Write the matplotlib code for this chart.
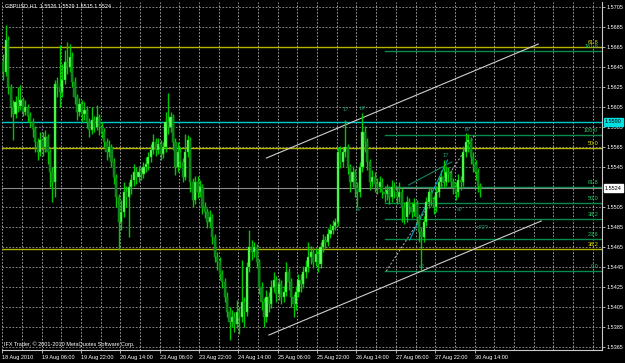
import matplotlib
matplotlib.use("Agg")
import matplotlib.pyplot as plt
import matplotlib.transforms as mtransforms
import numpy as np

# GBPUSD H1, 18 Aug 2010 14:00 .. 30 Aug 2010 16:00, prices in pips (1.xxxx -> xxxx + 10000)
closes = [5640, 5672, 5625, 5605, 5598, 5610, 5606, 5612, 5600, 5605,
          5596, 5590, 5583, 5570, 5560, 5572, 5565, 5575, 5560, 5540,
          5530, 5628, 5625, 5620, 5632, 5650, 5645, 5655, 5630, 5615,
          5600, 5608, 5598, 5602, 5590, 5582, 5592, 5585, 5595, 5585,
          5580, 5570, 5560, 5565, 5550, 5535, 5515, 5490, 5500, 5520,
          5515, 5525, 5532, 5540, 5535, 5540, 5538, 5545, 5548, 5555,
          5562, 5570, 5562, 5568, 5558, 5565, 5590, 5585, 5595, 5570,
          5545, 5560, 5550, 5535, 5560, 5572, 5530, 5512, 5530, 5520,
          5525, 5505, 5500, 5490, 5495, 5475, 5455, 5450, 5438, 5430,
          5415, 5400, 5390, 5395, 5388, 5400, 5395, 5410, 5400, 5445,
          5465, 5460, 5465, 5450, 5425, 5410, 5395, 5415, 5408, 5425,
          5432, 5418, 5428, 5415, 5420, 5440, 5430, 5415, 5408, 5420,
          5432, 5428, 5440, 5445, 5455, 5460, 5450, 5458, 5448, 5465,
          5472, 5470, 5478, 5482, 5486, 5490, 5560, 5550, 5560, 5565,
          5545, 5530, 5540, 5525, 5520, 5545, 5580, 5570, 5550, 5530,
          5535, 5528, 5525, 5530, 5520, 5518, 5522, 5515, 5525, 5520,
          5515, 5520, 5505, 5495, 5510, 5505, 5500, 5508, 5495, 5480,
          5475, 5490, 5510, 5520, 5512, 5505, 5520, 5530, 5535, 5530,
          5540, 5538, 5530, 5525, 5520, 5532, 5530, 5560, 5570, 5572,
          5555, 5548, 5540, 5526, 5524]
highs = [5658, 5687, 5676, 5628, 5612, 5616, 5625, 5627, 5615, 5612,
         5608, 5600, 5594, 5586, 5574, 5580, 5580, 5582, 5578, 5563,
         5545, 5632, 5635, 5667, 5648, 5662, 5670, 5668, 5660, 5635,
         5618, 5614, 5612, 5610, 5606, 5594, 5605, 5596, 5607, 5598,
         5590, 5584, 5574, 5572, 5568, 5554, 5538, 5518, 5512, 5530,
         5526, 5530, 5538, 5548, 5545, 5546, 5545, 5550, 5555, 5560,
         5568, 5578, 5574, 5574, 5572, 5570, 5600, 5619, 5600, 5598,
         5574, 5570, 5565, 5554, 5578, 5577, 5575, 5534, 5536, 5536,
         5532, 5528, 5510, 5504, 5502, 5498, 5478, 5460, 5455, 5442,
         5434, 5420, 5405, 5402, 5400, 5412, 5405, 5452, 5415, 5450,
         5482, 5472, 5470, 5468, 5453, 5430, 5414, 5422, 5420, 5432,
         5440, 5436, 5434, 5432, 5426, 5450, 5444, 5434, 5418, 5426,
         5438, 5438, 5446, 5452, 5470, 5466, 5464, 5464, 5462, 5470,
         5478, 5476, 5484, 5488, 5492, 5494, 5565, 5566, 5564, 5592,
         5568, 5548, 5546, 5543, 5530, 5550, 5599, 5586, 5574, 5553,
         5542, 5540, 5534, 5536, 5534, 5526, 5528, 5526, 5532, 5530,
         5526, 5530, 5524, 5510, 5516, 5514, 5510, 5514, 5512, 5498,
         5485, 5496, 5515, 5525, 5524, 5516, 5526, 5536, 5542, 5552,
         5546, 5545, 5542, 5534, 5530, 5538, 5536, 5566, 5579, 5578,
         5575, 5560, 5552, 5544, 5529]
lows = [5632, 5636, 5618, 5595, 5572, 5594, 5600, 5602, 5596, 5597,
        5590, 5585, 5575, 5560, 5552, 5556, 5556, 5560, 5548, 5525,
        5510, 5515, 5615, 5605, 5615, 5628, 5638, 5640, 5625, 5608,
        5592, 5596, 5590, 5592, 5584, 5575, 5578, 5580, 5582, 5577,
        5574, 5565, 5552, 5555, 5545, 5528, 5505, 5462, 5482, 5495,
        5505, 5475, 5518, 5526, 5528, 5530, 5532, 5534, 5540, 5542,
        5550, 5558, 5556, 5558, 5552, 5554, 5560, 5578, 5580, 5562,
        5537, 5540, 5544, 5530, 5532, 5555, 5520, 5505, 5508, 5514,
        5515, 5498, 5494, 5484, 5485, 5468, 5450, 5442, 5432, 5424,
        5410, 5395, 5372, 5385, 5380, 5384, 5378, 5390, 5385, 5396,
        5440, 5452, 5455, 5444, 5418, 5402, 5385, 5390, 5400, 5404,
        5420, 5410, 5412, 5408, 5410, 5416, 5422, 5405, 5395, 5402,
        5415, 5420, 5424, 5434, 5440, 5448, 5444, 5446, 5440, 5444,
        5460, 5464, 5466, 5474, 5478, 5482, 5486, 5544, 5545, 5555,
        5538, 5520, 5525, 5515, 5505, 5515, 5540, 5560, 5542, 5522,
        5525, 5520, 5518, 5520, 5514, 5510, 5512, 5508, 5510, 5514,
        5508, 5510, 5490, 5488, 5490, 5498, 5494, 5496, 5488, 5470,
        5442, 5470, 5486, 5504, 5506, 5498, 5500, 5515, 5525, 5524,
        5526, 5530, 5524, 5518, 5512, 5515, 5522, 5526, 5555, 5560,
        5548, 5540, 5532, 5520, 5515]
first_open = 5650

date_labels = ["18 Aug 2010", "19 Aug 06:00", "19 Aug 22:00", "20 Aug 14:00",
               "23 Aug 06:00", "23 Aug 22:00", "24 Aug 14:00", "25 Aug 06:00",
               "25 Aug 22:00", "26 Aug 14:00", "27 Aug 06:00", "27 Aug 22:00",
               "30 Aug 14:00"]
label_step = 16

price_ticks = [5705, 5685, 5665, 5645, 5625, 5605, 5585, 5565, 5545,
               5505, 5485, 5465, 5445, 5425, 5405, 5385, 5365]

# fibo (green) anchors and levels
fib_low, fib_high = 5441, 5577
fib_levels = [0.0, 23.6, 38.2, 50.0, 61.8, 100.0, 161.8]
# second fibo (yellow), only three levels on screen
yfib_levels = ["61.8", "50.0", "38.2"]
yfib_prices = [5665, 5564, 5463]
cyan_level = 5590
bid = 5524

plt.rcParams['font.family'] = ['Liberation Sans', 'DejaVu Sans']
FS = 4

def P(p):
    return 1 + p / 10000.0

opens = [first_open] + closes[:-1]
o = np.array([P(v) for v in opens])
c = np.array([P(v) for v in closes])
h = np.array([P(v) for v in highs])
l = np.array([P(v) for v in lows])
x = np.arange(len(closes))

W, H = 625, 363
fig = plt.figure(figsize=(W / 100, H / 100), dpi=100, facecolor="black")
ax = fig.add_axes([2 / W, 13 / H, 600 / W, 348 / H], facecolor="black")
ax.set_xlim(-0.5, 243.4)
ax.set_ylim(P(5362), P(5710))

grid_c = "#a0a0a0"
for t in price_ticks:
    ax.axhline(P(t), color=grid_c, lw=0.6, ls=(0, (2, 2)), zorder=1)
for k in range(0, 250, 8):
    ax.axvline(k - 0.4, color="#b8b8b8", lw=0.6, ls=(0, (2, 2)), zorder=1)

# horizontal levels
yel = "#b4b400"
for lv, pr in zip(yfib_levels, yfib_prices):
    ax.axhline(P(pr), color=yel, lw=1.0, zorder=2)
    ax.text(241.8, P(pr) + 0.0002, lv, color="#e0e000", fontsize=FS,
            ha="right", va="bottom", zorder=6)
ax.axhline(P(cyan_level), color="#00c8c8", lw=1.0, zorder=2)

fx0 = 155.3
fgreen = "#0a8a4a"
for lv in fib_levels:
    pr = fib_low + (fib_high - fib_low) * lv / 100.0
    ax.plot([fx0, 243.4], [P(pr), P(pr)], color=fgreen, lw=1.0, zorder=2)
    ax.text(241.8, P(pr) + 0.0002, "%.1f" % lv, color="#22c865", fontsize=FS,
            ha="right", va="bottom", zorder=6)
ax.axhline(P(bid), color="#8a8a8a", lw=0.8, zorder=2)

# channel and trend lines
ax.plot([107, 217.5], [P(5554), P(5668)], color="#cfcfcf", lw=0.8, zorder=3)
ax.plot([108, 218.7], [P(5377), P(5491)], color="#cfcfcf", lw=0.8, zorder=3)
ax.plot([155.7, 191.7], [P(5441), P(5577)], color="#bbbbbb", lw=0.7,
        ls=(0, (2, 2)), zorder=3)
ax.plot([165.2, 180.6], [P(5472), P(5552)], color="#00a0c0", lw=0.8, zorder=3)
ax.plot([164.8, 182.3], [P(5527), P(5550)], color="#108860", lw=0.8, zorder=3)

# candles
up = c >= o
ax.vlines(x, l, h, color="#00c800", lw=1.0, zorder=4)
body_lo = np.minimum(o, c)
body_h = np.maximum(np.abs(c - o), 0.00008)
ax.bar(x[up], body_h[up], 0.9, bottom=body_lo[up], color="#60ff60",
       edgecolor="#00d000", lw=0.3, zorder=5)
ax.bar(x[~up], body_h[~up], 0.9, bottom=body_lo[~up], color="#127a20",
       edgecolor="#00b400", lw=0.3, zorder=5)

# wave marks
wave_c = "#20a080"
for tx, ty, s in [(139.2, 5600, "1?"), (146.3, 5601, "b?"), (144.5, 5500, "a?"),
                  (180.0, 5554, "1?"), (188.9, 5580, "b?"), (185.5, 5500, "a?"),
                  (170.2, 5443, "c?"), (195.0, 5482, "c?2?")]:
    ax.text(tx, P(ty), s, color=wave_c, fontsize=FS, ha="center", va="bottom",
            zorder=6)

# axes styling
for side in ["top", "left"]:
    ax.spines[side].set_visible(False)
ax.spines["right"].set_color("#c8c8c8")
ax.spines["bottom"].set_color("#c8c8c8")
ax.spines["right"].set_linewidth(0.8)
ax.spines["bottom"].set_linewidth(0.8)
ax.yaxis.tick_right()
ax.set_yticks([P(t) for t in price_ticks])
ax.set_yticklabels(["%.4f" % P(t) for t in price_ticks])
ax.tick_params(axis="y", colors="#c8c8c8", labelcolor="white", labelsize=FS,
               length=2, width=0.6, pad=1.5)
ax.set_xticks([k * label_step - 0.4 for k in range(len(date_labels))])
ax.set_xticklabels(date_labels, ha="left")
ax.tick_params(axis="x", colors="#c8c8c8", labelcolor="white", labelsize=FS,
               length=2, width=0.6, pad=1.5)

# price boxes on the right scale
trans = mtransforms.blended_transform_factory(ax.transAxes, ax.transData)
ax.text(1.005, P(cyan_level), "%.4f" % P(cyan_level), transform=trans,
        color="black", fontsize=FS, va="center", ha="left", zorder=7,
        bbox=dict(boxstyle="square,pad=0.2", fc="#00e0e0", ec="#00e0e0"),
        clip_on=False)
ax.text(1.005, P(bid), "%.4f" % P(bid), transform=trans,
        color="black", fontsize=FS, va="center", ha="left", zorder=7,
        bbox=dict(boxstyle="square,pad=0.2", fc="white", ec="white"),
        clip_on=False)

fig.text(5 / W, 1 - 6 / H, "GBPUSD,H1  %.4f %.4f %.4f %.4f" % (P(5526), P(5529), P(5515), P(5524)),
         color="white", fontsize=FS, va="center", ha="left")
ax.text(0.004, 0.016, "IFX Trader, \u00a9 2001-2010 MetaQuotes Software Corp.",
        transform=ax.transAxes, color="white", fontsize=FS, va="center", ha="left")

fig.savefig("out.png", dpi=100, facecolor="black")
